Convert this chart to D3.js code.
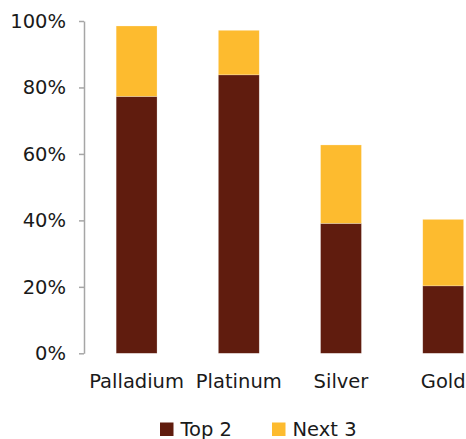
<!DOCTYPE html>
<html>
<head>
<meta charset="utf-8">
<script src="https://cdn.jsdelivr.net/npm/d3@7"></script>
<style>
  body { margin: 0; background: #fff; }
  text { font-family: "DejaVu Sans", sans-serif; fill: #1a1a1a; }
</style>
</head>
<body>
<div id="chart"></div>
<script>
// data (share of supply, %)
var metals = ["Palladium", "Platinum", "Silver", "Gold"];
var top2 = [77.3, 83.8, 39.1, 20.3];
var next3 = [21.2, 13.4, 23.6, 20.0];
var seriesNames = ["Top 2", "Next 3"];
var yTicks = [0, 20, 40, 60, 80, 100];

var width = 466;
var height = 439;
var colors = ["#601c0e", "#fdbb2f"];

var svg = d3.select("#chart")
    .append("svg")
    .attr("width", width)
    .attr("height", height);

var xScale = d3.scaleBand()
    .domain(metals)
    .range([85.5, 494.3])
    .paddingInner(0.6)
    .paddingOuter(0.3);

var yScale = d3.scaleLinear()
    .domain([0, 100])
    .range([353.3, 21]);

var rows = metals.map(function (m, i) {
    return { metal: m, "Top 2": top2[i], "Next 3": next3[i] };
});
var stacked = d3.stack().keys(seriesNames)(rows);

// bars
var layers = svg.append("g")
    .selectAll(".layer")
    .data(stacked)
    .enter()
    .append("g")
    .classed("layer", true)
    .style("fill", function (d, i) { return colors[i]; });

layers.selectAll("rect")
    .data(function (d) { return d; })
    .enter()
    .append("rect")
    .attr("x", function (d) { return xScale(d.data.metal); })
    .attr("y", function (d) { return yScale(d[1]); })
    .attr("width", xScale.bandwidth())
    .attr("height", function (d) { return yScale(d[0]) - yScale(d[1]); })
    .style("stroke", "#fff")
    .style("stroke-opacity", 0.4)
    .style("stroke-width", 0.6);

// y axis
var yAxis = svg.append("g")
    .attr("transform", "translate(84,0)")
    .call(d3.axisLeft(yScale)
        .tickValues(yTicks)
        .tickSize(5)
        .tickSizeOuter(0)
        .tickPadding(13)
        .tickFormat(function (d) { return d + "%"; }));
yAxis.selectAll("path, line")
    .style("stroke", "#a6a6a6")
    .style("stroke-width", 1.5);
yAxis.selectAll("text")
    .style("font-size", "19.5px")
    .style("font-family", "'DejaVu Sans', sans-serif")
    .style("fill", "#1a1a1a");

// x axis labels (no line)
var xAxis = svg.append("g")
    .attr("transform", "translate(0,353)")
    .call(d3.axisBottom(xScale).tickSize(0).tickPadding(21));
xAxis.select(".domain").remove();
xAxis.selectAll("text")
    .style("font-size", "19.5px")
    .style("font-family", "'DejaVu Sans', sans-serif")
    .style("fill", "#1a1a1a");

// legend
var legendX = [160, 272];
var legend = svg.append("g")
    .selectAll(".leg")
    .data(seriesNames)
    .enter()
    .append("g")
    .classed("leg", true)
    .attr("transform", function (d, i) { return "translate(" + legendX[i] + ",422.5)"; });
legend.append("rect")
    .attr("width", 13.5)
    .attr("height", 13.5)
    .style("fill", function (d, i) { return colors[i]; });
legend.append("text")
    .attr("x", 20.5)
    .attr("y", 13)
    .style("font-size", "19.5px")
    .text(function (d) { return d; });
</script>
</body>
</html>
